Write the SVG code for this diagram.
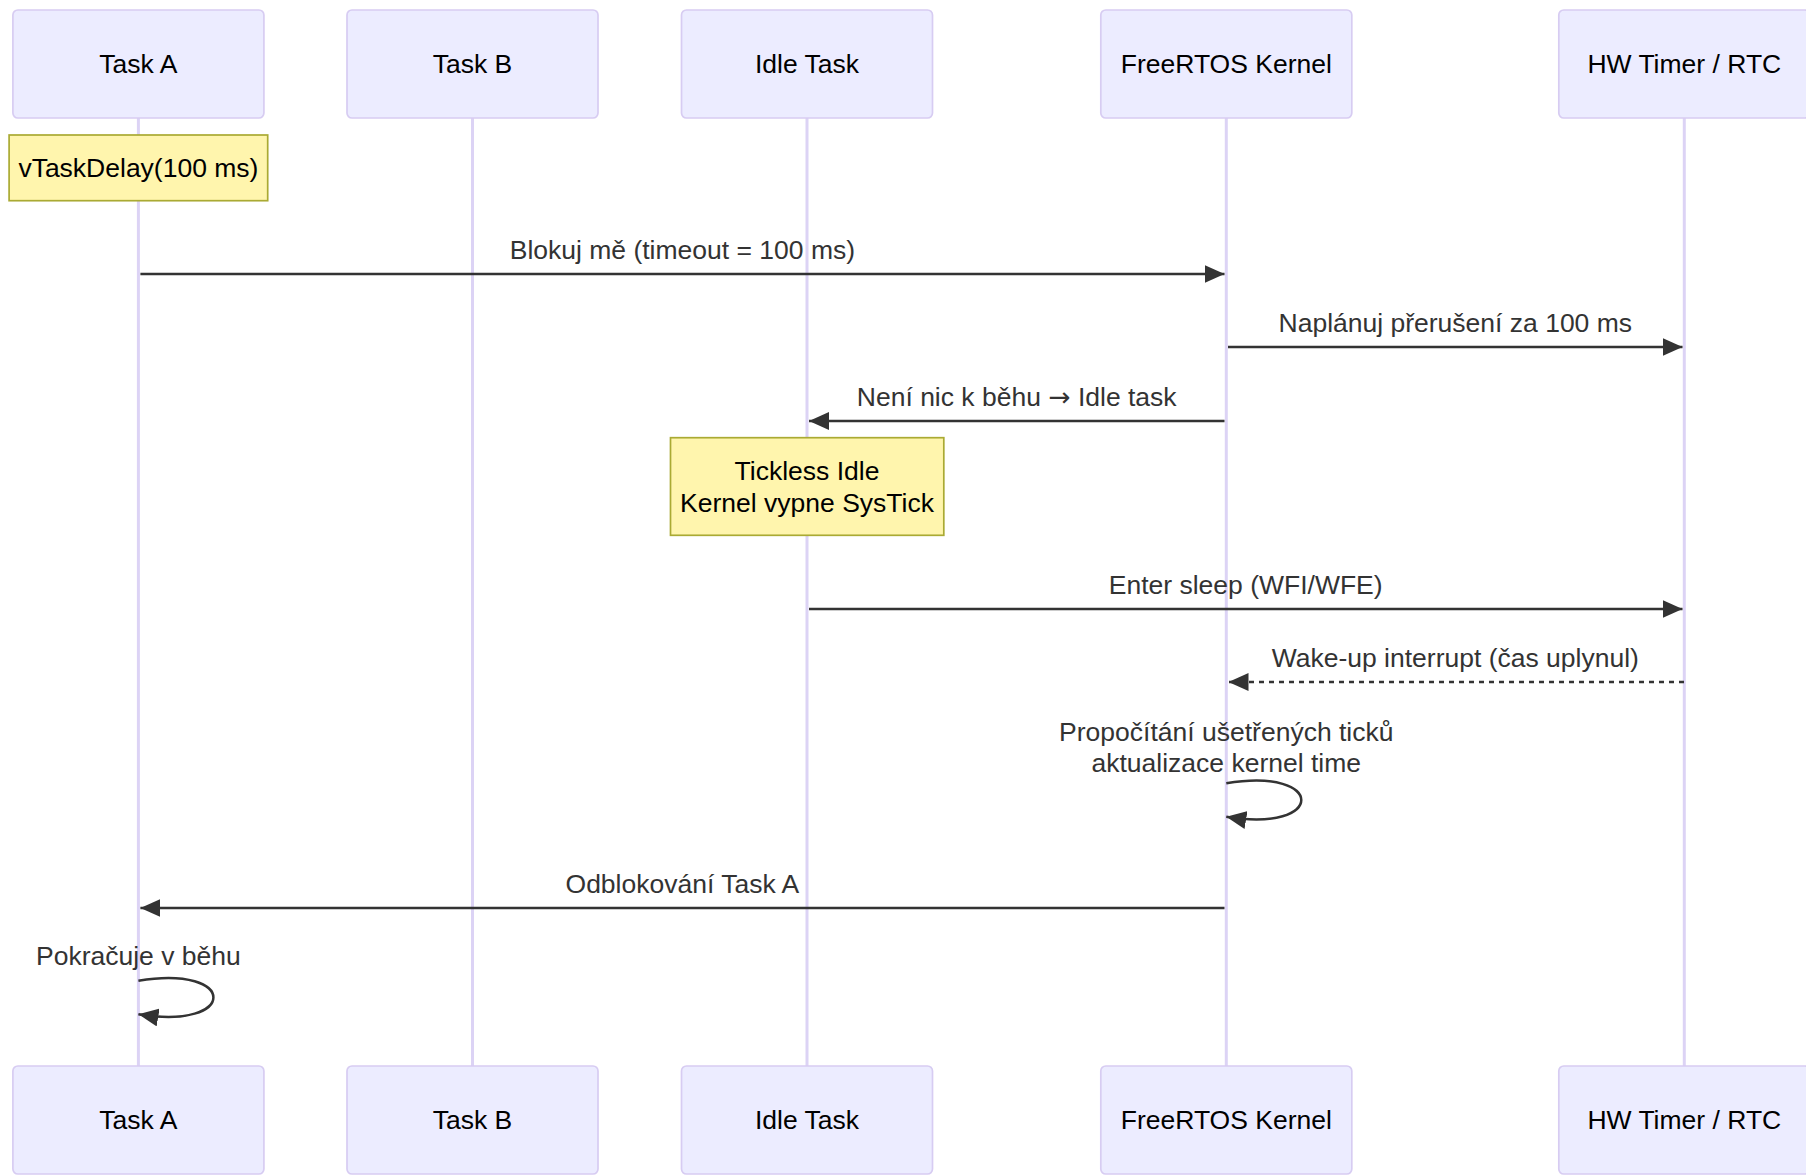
<svg xmlns="http://www.w3.org/2000/svg" width="1806" height="1175" viewBox="0 0 1806 1175">
<style>
.actor{fill:#ECECFF;stroke:#D7CCF2;stroke-width:1.7}
.atext{font-family:"Liberation Sans",Arial,sans-serif;font-size:26.5px;fill:#000;text-anchor:middle;dominant-baseline:central}
.life{stroke:#DCD3F5;stroke-width:3}
.note{fill:#FFF5AD;stroke:#AAAA33;stroke-width:1.7}
.ntext{font-family:"Liberation Sans",Arial,sans-serif;font-size:26.5px;fill:#000;text-anchor:middle}
.mtext{font-family:"Liberation Sans",Arial,sans-serif;font-size:26.5px;fill:#333;text-anchor:middle}
.sym{font-family:"DejaVu Sans",sans-serif}
.msg{stroke:#333;stroke-width:2.5;fill:none;marker-end:url(#arrow)}
.dot{stroke-dasharray:5,5}
</style>
<defs>
<marker id="arrow" markerUnits="userSpaceOnUse" viewBox="0 0 20 18" refX="20" refY="9" markerWidth="20" markerHeight="18" orient="auto">
<path d="M0,0 L20,9 L0,18 z" fill="#333"/>
</marker>
</defs>
<rect width="1806" height="1175" fill="#fff"/>
<g id="lifelines">
<line class="life" x1="138.4" y1="118" x2="138.4" y2="1066"/>
<line class="life" x1="472.5" y1="118" x2="472.5" y2="1066"/>
<line class="life" x1="807" y1="118" x2="807" y2="1066"/>
<line class="life" x1="1226.3" y1="118" x2="1226.3" y2="1066"/>
<line class="life" x1="1684.3" y1="118" x2="1684.3" y2="1066"/>
</g>
<g id="taskA">
<rect class="actor" x="12.9" y="10" width="251" height="108" rx="5"/>
<text class="atext" x="138.4" y="64">Task A</text>
<rect class="actor" x="12.9" y="1066" width="251" height="108" rx="5"/>
<text class="atext" x="138.4" y="1120">Task A</text>
</g>
<g id="taskB">
<rect class="actor" x="347" y="10" width="251" height="108" rx="5"/>
<text class="atext" x="472.5" y="64">Task B</text>
<rect class="actor" x="347" y="1066" width="251" height="108" rx="5"/>
<text class="atext" x="472.5" y="1120">Task B</text>
</g>
<g id="idleTask">
<rect class="actor" x="681.5" y="10" width="251" height="108" rx="5"/>
<text class="atext" x="807" y="64">Idle Task</text>
<rect class="actor" x="681.5" y="1066" width="251" height="108" rx="5"/>
<text class="atext" x="807" y="1120">Idle Task</text>
</g>
<g id="kernel">
<rect class="actor" x="1100.8" y="10" width="251" height="108" rx="5"/>
<text class="atext" x="1226.3" y="64">FreeRTOS Kernel</text>
<rect class="actor" x="1100.8" y="1066" width="251" height="108" rx="5"/>
<text class="atext" x="1226.3" y="1120">FreeRTOS Kernel</text>
</g>
<g id="hwTimer">
<rect class="actor" x="1558.8" y="10" width="251" height="108" rx="5"/>
<text class="atext" x="1684.3" y="64">HW Timer / RTC</text>
<rect class="actor" x="1558.8" y="1066" width="251" height="108" rx="5"/>
<text class="atext" x="1684.3" y="1120">HW Timer / RTC</text>
</g>
<g id="noteDelay">
<rect class="note" x="9.1" y="135" width="258.6" height="65.7"/>
<text class="ntext" x="138.4" y="177">vTaskDelay(100 ms)</text>
</g>
<g id="noteTickless">
<rect class="note" x="670.5" y="437.7" width="273.3" height="97.6"/>
<text class="ntext" x="807" y="480">Tickless Idle</text>
<text class="ntext" x="807" y="512">Kernel vypne SysTick</text>
</g>
<g id="connectors">
<line class="msg" x1="140.4" y1="274" x2="1224.5" y2="274"/>
<text class="mtext" x="682.4" y="259">Blokuj mě (timeout = 100 ms)</text>
<line class="msg" x1="1228" y1="347" x2="1682.5" y2="347"/>
<text class="mtext" x="1455.3" y="332">Naplánuj přerušení za 100 ms</text>
<line class="msg" x1="1224.5" y1="421" x2="809" y2="421"/>
<text class="mtext" x="1016.7" y="406">Není nic k běhu <tspan class="sym">→</tspan> Idle task</text>
<line class="msg" x1="809" y1="609" x2="1682.5" y2="609"/>
<text class="mtext" x="1245.7" y="594">Enter sleep (WFI/WFE)</text>
<line class="msg dot" x1="1684" y1="682" x2="1228.5" y2="682"/>
<text class="mtext" x="1455.3" y="667">Wake-up interrupt (čas uplynul)</text>
<path class="msg" d="M1226.3,783.3 C1326.3,766.6 1326.3,833.5 1226.3,816.8"/>
<text class="mtext" x="1226.3" y="741">Propočítání ušetřených ticků</text>
<text class="mtext" x="1226.3" y="772">aktualizace kernel time</text>
<line class="msg" x1="1224.5" y1="908" x2="140.4" y2="908"/>
<text class="mtext" x="682.4" y="893">Odblokování Task A</text>
<path class="msg" d="M138.4,980.7 C238.4,964 238.4,1030.9 138.4,1014.2"/>
<text class="mtext" x="138.4" y="965">Pokračuje v běhu</text>
</g>
</svg>
